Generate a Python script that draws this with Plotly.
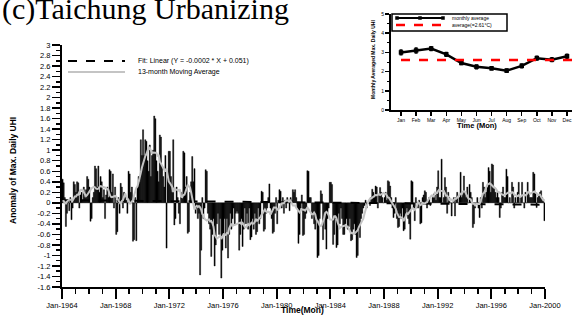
import numpy as np
import pandas as pd
import plotly.graph_objects as go

# ---------------- data ----------------
start_year = 1964
anom_1964_1969 = [
    0.45, 0.38, 0.10, -0.45, -0.20, 0.05, -0.15, 0.10, -0.32, -0.10, 0.40, 0.35,
    0.20, 0.40, 0.38, -0.10, 0.15, 0.20, 0.05, 0.30, 0.10, 0.25, 0.50, 0.45,
    0.30, -0.35, -0.30, 0.10, 0.20, 0.70, 0.65, 0.30, 0.70, 0.20, 0.50, 0.40,
    0.10, 0.25, -0.30, 0.15, 0.30, 0.10, 0.63, 0.60, 0.20, 0.55, -0.10, 0.30,
    -0.60, -0.55, 0.10, -0.20, 0.37, 0.30, -0.10, 0.20, 0.15, 0.05, -0.20, 0.60,
    0.55, 0.20, 0.30, -0.73, -0.70, 0.10, -0.72, 0.30, 0.50, 0.40, 1.20, 0.90,
]
anom_1970s = [
    1.39, 0.90, 1.20, 1.17, 0.80, 0.60, 1.10, 0.50, 0.90, 1.00, 1.65, 1.60,
    0.80, 0.60, 0.40, 1.29, 1.25, 0.70, 0.50, 0.30, 0.90, -0.86, 0.60, 0.98,
    0.98, 0.50, 0.20, 1.20, -0.42, -0.30, 0.30, 0.10, -0.20, -0.40, 0.20, 0.10,
    0.98, 0.95, 0.30, 0.50, -0.58, -0.55, 0.20, 0.40, 0.88, 0.40, 0.65, -0.20,
    -0.10, -0.30, -0.20, -1.37, -0.90, 0.10, -0.30, -0.10, 0.63, 0.60, -0.20, -0.40,
    -0.50, -1.02, -0.60, -0.30, -1.20, -0.80, -0.40, -0.20, -0.60, -0.30, -1.43, -0.90,
    -0.60, -0.30, -0.86, -0.30, -1.05, -0.60, -0.20, -0.50, -0.30, -0.10, -0.40, -0.20,
    -0.16, -0.20, -0.90, -0.60, -0.30, -0.83, -0.50, -0.10, -0.40, -0.20, -0.50, -0.10,
    -0.70, -0.65, -0.30, -0.50, -0.20, -0.60, -0.55, -0.10, -0.40, -0.30, 0.22, 0.20,
    -0.54, -0.50, -0.20, -0.10, 0.10, 0.36, -0.10, -0.30, -0.58, -0.55, -0.20, 0.10,
]
anom_1980s = [
    -0.40, 0.05, 0.25, 0.22, -0.10, 0.10, -0.20, 0.05, -0.10, 0.10, 0.00, -0.15,
    0.10, 0.05, 0.25, 0.20, 0.25, 0.10, -0.10, -0.77, -0.60, -0.10, 0.15, -0.62,
    -0.60, -0.30, -0.20, 0.61, 0.60, 0.10, 0.10, -0.30, -0.20, -0.40, -0.50, -0.30,
    -1.04, -1.00, -0.30, 0.23, 0.17, -0.70, -0.20, -0.50, -0.88, -0.30, -0.10, 0.39,
    0.39, 0.35, -0.79, -0.60, -0.30, -0.85, -0.80, -0.20, -0.40, -0.10, -0.30, -0.60,
    -0.60, -0.40, -0.30, -0.50, -0.45, -0.30, -0.72, -0.70, -0.50, -0.40, -0.60, -1.04,
    -1.00, -0.50, -0.66, -0.30, -0.20, -0.10, -0.05, 0.05, -0.10, 0.00, 0.05, -0.05,
    0.10, 0.26, 0.20, 0.10, 0.32, 0.30, -0.10, 0.15, 0.29, 0.20, 0.10, 0.00,
    0.10, 0.20, 0.05, 0.42, 0.40, 0.32, 0.10, -0.10, -0.28, -0.20, 0.10, -0.30,
    -0.47, -0.45, -0.20, -0.30, -0.10, -0.53, -0.50, -0.20, -0.10, -0.30, -0.40, -0.69,
]
anom_1990s = [
    0.42, 0.40, -0.10, -0.34, 0.10, 0.00, -0.10, 0.05, -0.40, -0.38, 0.10, 0.15,
    0.23, 0.20, -0.10, 0.05, 0.10, -0.05, 0.00, 0.10, 0.17, 0.15, 0.05, 0.30,
    0.61, 0.10, 0.10, 0.83, 0.00, 0.10, 0.48, 0.30, -0.20, 0.20, 0.10, 0.00,
    -0.25, 0.00, 0.10, -0.25, 0.10, 0.20, 0.00, 0.10, 0.58, 0.10, 0.20, 0.51,
    0.20, 0.10, 0.30, 0.00, 0.35, 0.20, 0.10, -0.47, -0.40, -0.10, 0.00, 0.10,
    -0.10, -0.28, 0.10, -0.10, 0.39, 0.30, 0.10, 0.20, 0.30, 0.67, 0.60, 0.20,
    0.74, 0.72, 0.30, 0.20, 0.10, 0.20, 0.10, -0.28, -0.10, 0.20, 0.30, 0.10,
    0.10, 0.64, 0.50, 0.00, 0.10, 0.00, 0.39, 0.30, -0.10, 0.10, 0.00, 0.20,
    0.39, 0.00, 0.10, 0.39, 0.00, -0.10, 0.20, 0.00, 0.39, 0.20, 0.10, 0.10,
    0.10, 0.58, 0.55, 0.20, -0.09, 0.10, 0.15, 0.20, 0.23, 0.10, 0.05, -0.34,
]
fit_slope = -0.0002
fit_intercept = 0.051
ma_window = 13

x_tick_years = [1964, 1968, 1972, 1976, 1980, 1984, 1988, 1992, 1996, 2000]
x_tick_labels = ["Jan-1964", "Jan-1968", "Jan-1972", "Jan-1976", "Jan-1980",
                 "Jan-1984", "Jan-1988", "Jan-1992", "Jan-1996", "Jan-2000"]
y_tick_vals = [3, 2.8, 2.6, 2.4, 2.2, 2, 1.8, 1.6, 1.4, 1.2, 1, 0.8, 0.6, 0.4, 0.2, 0,
               -0.2, -0.4, -0.6, -0.8, -1, -1.2, -1.4, -1.6]
y_tick_labels = ["3", "2.8", "2.6", "2.4", "2.2", "2", "1.8", "1.6", "1.4", "1.2", "1",
                 "0.8", "0.6", "0.4", "0.2", "0", "-0.2", "-0.4", "-0.6", "-0.8", "-1",
                 "-1.2", "-1.4", "-1.6"]
legend_fit = "Fit: Linear (Y = -0.0002 * X + 0.051)"
legend_ma = "13-month Moving Average"

# inset
month_nums = [1, 2, 3, 4, 5, 6, 7, 8, 9, 10, 11, 12]
month_labels = ["Jan", "Feb", "Mar", "Apr", "May", "Jun", "Jul", "Aug", "Sep", "Oct", "Nov", "Dec"]
monthly_avg = [3.0, 3.1, 3.2, 2.9, 2.45, 2.25, 2.17, 2.05, 2.3, 2.7, 2.62, 2.8]
monthly_err = [0.12, 0.13, 0.10, 0.10, 0.08, 0.10, 0.08, 0.08, 0.10, 0.10, 0.10, 0.10]
overall_avg = 2.61
inset_y_ticks = [0, 1, 2, 3, 4, 5]
legend_monthly = "monthly average"
legend_avg = "average(=2.61\u00b0C)"

# ---------------- derived ----------------
anomaly = np.array(anom_1964_1969 + anom_1970s + anom_1980s + anom_1990s)
n = len(anomaly)
month_idx = np.arange(n)
t = start_year + (month_idx + 0.5) / 12.0
moving_avg = pd.Series(anomaly).rolling(ma_window, center=True, min_periods=1).mean()
fit_line = fit_intercept + fit_slope * (month_idx + 1)

FONT = "Liberation Sans, Arial, sans-serif"
W, H = 573, 322


def px_x(p):
    return p / W


def px_y(p):
    return 1 - p / H


fig = go.Figure()
fig.add_trace(go.Bar(x=t, y=anomaly, width=1 / 12.0,
                     marker=dict(color="black", line=dict(width=0.4, color="black")),
                     showlegend=False, xaxis="x", yaxis="y"))
fig.add_trace(go.Scatter(x=t, y=fit_line, mode="lines", line=dict(color="black", width=2, dash="dash"),
                         name=legend_fit, showlegend=False, xaxis="x", yaxis="y"))
fig.add_trace(go.Scatter(x=t, y=moving_avg, mode="lines", line=dict(color="#c4c4c4", width=2),
                         name=legend_ma, showlegend=False, xaxis="x", yaxis="y"))

# inset traces
fig.add_trace(go.Scatter(x=month_nums, y=monthly_avg, mode="lines+markers",
                         line=dict(color="black", width=2.5),
                         marker=dict(symbol="square", size=4.5, color="black"),
                         error_y=dict(type="data", array=monthly_err, color="black", thickness=1.5, width=1.5),
                         name=legend_monthly, showlegend=False, xaxis="x2", yaxis="y2"))
fig.add_trace(go.Scatter(x=[month_nums[0], month_nums[-1] + 0.33], y=[overall_avg, overall_avg], mode="lines",
                         line=dict(color="red", width=2.5, dash="dash"),
                         name=legend_avg, showlegend=False, xaxis="x2", yaxis="y2"))

fig.update_layout(
    width=W, height=H, margin=dict(l=0, r=0, t=0, b=0, autoexpand=False),
    paper_bgcolor="white", plot_bgcolor="rgba(0,0,0,0)",
    bargap=0, font=dict(family=FONT, color="black"), showlegend=False,
    xaxis=dict(domain=[px_x(62), px_x(545)], range=[1964, 2000], anchor="y", automargin=False,
               tickvals=x_tick_years, ticktext=x_tick_labels, tickfont=dict(size=7.5),
               ticks="outside", ticklen=10, tickwidth=2, tickcolor="black",
               minor=dict(dtick=1, tick0=1964, ticks="outside", ticklen=5, tickwidth=1.5, tickcolor="black"),
               showline=True, linewidth=2, linecolor="black", showgrid=False, zeroline=False),
    yaxis=dict(domain=[px_y(287), px_y(45)], range=[-1.6, 3], anchor="x", automargin=False,
               tickvals=y_tick_vals, ticktext=y_tick_labels, tickfont=dict(size=7.5),
               ticks="outside", ticklen=8, tickwidth=1.5, tickcolor="black",
               minor=dict(dtick=0.1, tick0=0, ticks="outside", ticklen=4, tickwidth=1.5, tickcolor="black"),
               showline=True, linewidth=2, linecolor="black", showgrid=False, zeroline=False),
    xaxis2=dict(domain=[px_x(391), px_x(572)], range=[0.337, 12.33], anchor="y2", automargin=False,
                tickvals=month_nums, ticktext=month_labels, tickfont=dict(size=5),
                ticks="outside", ticklen=4, tickwidth=1.5, tickcolor="black",
                showline=True, linewidth=2, linecolor="black", showgrid=False, zeroline=False),
    yaxis2=dict(domain=[px_y(110), px_y(14)], range=[0, 5], anchor="x2", automargin=False,
                tickvals=inset_y_ticks, tickfont=dict(size=5),
                ticks="outside", ticklen=4, tickwidth=1.5, tickcolor="black",
                minor=dict(dtick=0.5, ticks="outside", ticklen=2, tickwidth=1, tickcolor="black"),
                showline=True, linewidth=2, linecolor="black", showgrid=False, zeroline=False),
)

# ---------- hand-drawn legends (paper coordinates) ----------
shapes = []
annotations = []

# main legend
for (ly, txt, col, dash) in [(61, legend_fit, "black", "dash"), (72, legend_ma, "#c4c4c4", "solid")]:
    shapes.append(dict(type="line", xref="paper", yref="paper", x0=px_x(68), x1=px_x(125),
                       y0=px_y(ly), y1=px_y(ly), line=dict(color=col, width=2, dash=dash)))
    annotations.append(dict(text=txt, x=px_x(136), y=px_y(ly), xref="paper", yref="paper",
                            xanchor="left", yanchor="middle", showarrow=False, font=dict(size=7)))

# inset legend
shapes.append(dict(type="rect", xref="paper", yref="paper", x0=px_x(392), x1=px_x(507),
                   y0=px_y(31), y1=px_y(14), line=dict(color="black", width=1.5), fillcolor="white"))
shapes.append(dict(type="line", xref="paper", yref="paper", x0=px_x(396), x1=px_x(444),
                   y0=px_y(18), y1=px_y(18), line=dict(color="black", width=2)))
for mx in (397, 420, 443):
    shapes.append(dict(type="rect", xref="paper", yref="paper", x0=px_x(mx - 1.5), x1=px_x(mx + 1.5),
                       y0=px_y(19.5), y1=px_y(16.5), line=dict(color="black", width=0.5), fillcolor="black"))
shapes.append(dict(type="line", xref="paper", yref="paper", x0=px_x(396), x1=px_x(444),
                   y0=px_y(25), y1=px_y(25), line=dict(color="red", width=2.5, dash="dash")))
annotations.append(dict(text=legend_monthly, x=px_x(450), y=px_y(18.5), xref="paper", yref="paper",
                        xanchor="left", yanchor="middle", showarrow=False, font=dict(size=5)))
annotations.append(dict(text=legend_avg, x=px_x(450), y=px_y(25.5), xref="paper", yref="paper",
                        xanchor="left", yanchor="middle", showarrow=False, font=dict(size=5)))

annotations += [
    dict(text="(c)Taichung Urbanizing", x=0, y=px_y(28), xref="paper", yref="paper",
         xanchor="left", yanchor="bottom", showarrow=False,
         font=dict(family="Liberation Serif, Times New Roman, serif", size=30, color="black")),
    dict(text="<b>Time(Mon)</b>", x=px_x(303), y=px_y(310), xref="paper", yref="paper",
         xanchor="center", yanchor="middle", showarrow=False, font=dict(size=8.5)),
    dict(text="<b>Anomaly of Max. Daily UHI</b>", x=px_x(13), y=px_y(171), xref="paper", yref="paper",
         xanchor="center", yanchor="middle", textangle=-90, showarrow=False, font=dict(size=8.5)),
    dict(text="<b>Time (Mon)</b>", x=px_x(477), y=px_y(126), xref="paper", yref="paper",
         xanchor="center", yanchor="middle", showarrow=False, font=dict(size=7.5)),
    dict(text="<b>Monthly Averaged Max. Daily UHI</b>", x=px_x(373), y=px_y(60), xref="paper", yref="paper",
         xanchor="center", yanchor="middle", textangle=-90, showarrow=False, font=dict(size=5)),
]
fig.update_layout(shapes=shapes, annotations=annotations)

fig.write_html("out.html", config={"displayModeBar": False, "staticPlot": True},
               post_script="document.body.style.margin='0';document.body.style.padding='0';")
